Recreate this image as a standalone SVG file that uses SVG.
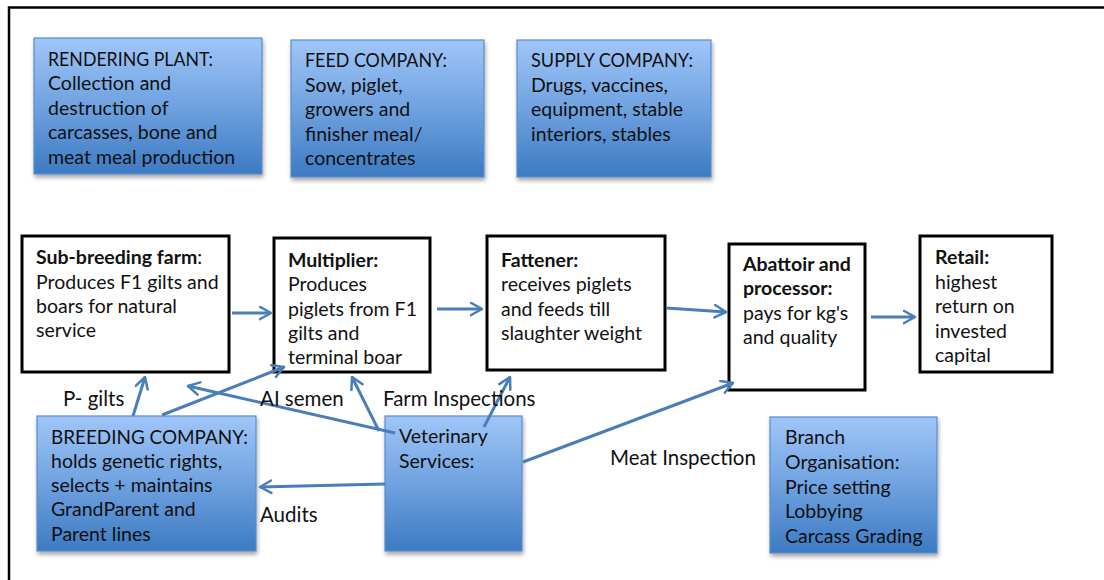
<svg xmlns="http://www.w3.org/2000/svg" width="1104" height="580" viewBox="0 0 1104 580">
<defs>
<linearGradient id="blueGrad" x1="0" y1="0" x2="0" y2="1">
<stop offset="0" stop-color="#a0c6f8"/>
<stop offset="0.5" stop-color="#6fa2e0"/>
<stop offset="1" stop-color="#3d7ac2"/>
</linearGradient>
<filter id="shadow" x="-10%" y="-10%" width="125%" height="130%">
<feDropShadow dx="1" dy="3" stdDeviation="2" flood-color="#000" flood-opacity="0.35"/>
</filter>
<marker id="arrow" viewBox="0 0 12 12" refX="10" refY="6" markerWidth="5" markerHeight="5" orient="auto" markerUnits="strokeWidth">
<path d="M1,1 L10,6 L1,11" fill="none" stroke="#4a7ebb" stroke-width="2" stroke-linecap="round" stroke-linejoin="round"/>
</marker>
</defs>
<style>
text{font-family:Lato,"Open Sans","Liberation Sans",sans-serif;font-size:19.5px;fill:#111;}
.b{font-weight:bold;}
.lbl{font-size:20.5px;}
.blue{fill:url(#blueGrad);stroke:#5a8ccc;stroke-width:1.2;filter:url(#shadow);}
.white{fill:#fff;stroke:#000;stroke-width:3;}
.conn{fill:none;stroke:#4a7ebb;stroke-width:3;marker-end:url(#arrow);}
</style>
<rect x="0" y="0" width="1104" height="580" fill="#fff"/>
<path d="M1104,7.5 H9 V580" fill="none" stroke="#000" stroke-width="2.5"/>

<g id="rendering-plant">
<rect class="blue" x="34" y="38" width="228" height="136"/>
<text x="48" y="66" textLength="165" lengthAdjust="spacingAndGlyphs">RENDERING PLANT:</text>
<text x="48" y="90">Collection and</text>
<text x="48" y="115">destruction of</text>
<text x="48" y="139">carcasses, bone and</text>
<text x="48" y="164">meat meal production</text>
</g>
<g id="feed-company">
<rect class="blue" x="291" y="40" width="193" height="137"/>
<text x="305" y="67" textLength="142" lengthAdjust="spacingAndGlyphs">FEED COMPANY:</text>
<text x="305" y="92">Sow, piglet,</text>
<text x="305" y="116">growers and</text>
<text x="305" y="141">finisher meal/</text>
<text x="305" y="165">concentrates</text>
</g>
<g id="supply-company">
<rect class="blue" x="517" y="40" width="194" height="137"/>
<text x="531" y="67" textLength="162" lengthAdjust="spacingAndGlyphs">SUPPLY COMPANY:</text>
<text x="531" y="92">Drugs, vaccines,</text>
<text x="531" y="116">equipment, stable</text>
<text x="531" y="141">interiors, stables</text>
</g>

<g id="sub-breeding-farm">
<rect class="white" x="22" y="236" width="207" height="136"/>
<text x="36" y="264"><tspan class="b">Sub-breeding farm</tspan>:</text>
<text x="36" y="289">Produces F1 gilts and</text>
<text x="36" y="313">boars for natural</text>
<text x="36" y="337">service</text>
</g>
<g id="multiplier">
<rect class="white" x="274" y="238" width="156" height="134"/>
<text class="b" x="288" y="267">Multiplier:</text>
<text x="288" y="291">Produces</text>
<text x="288" y="316">piglets from F1</text>
<text x="288" y="340">gilts and</text>
<text x="288" y="364">terminal boar</text>
</g>
<g id="fattener">
<rect class="white" x="487" y="236" width="178" height="134"/>
<text class="b" x="501" y="267">Fattener:</text>
<text x="501" y="291">receives piglets</text>
<text x="501" y="316">and feeds till</text>
<text x="501" y="340">slaughter weight</text>
</g>
<g id="abattoir">
<rect class="white" x="729" y="244" width="136" height="146"/>
<text class="b" x="743" y="271">Abattoir and</text>
<text class="b" x="743" y="295">processor:</text>
<text x="743" y="320">pays for kg's</text>
<text x="743" y="344">and quality</text>
</g>
<g id="retail">
<rect class="white" x="920" y="236" width="132" height="136"/>
<text class="b" x="935" y="264">Retail:</text>
<text x="935" y="289">highest</text>
<text x="935" y="313">return on</text>
<text x="935" y="338">invested</text>
<text x="935" y="362">capital</text>
</g>

<g id="breeding-company">
<rect class="blue" x="37" y="416" width="219" height="135"/>
<text x="51" y="444" textLength="197" lengthAdjust="spacingAndGlyphs">BREEDING COMPANY:</text>
<text x="51" y="468">holds genetic rights,</text>
<text x="51" y="492">selects + maintains</text>
<text x="51" y="516">GrandParent and</text>
<text x="51" y="541">Parent lines</text>
</g>
<g id="veterinary-services">
<rect class="blue" x="385" y="416" width="137" height="135"/>
<text x="399" y="443">Veterinary</text>
<text x="399" y="468">Services:</text>
</g>
<g id="branch-organisation">
<rect class="blue" x="770" y="417" width="167" height="136"/>
<text x="785" y="444">Branch</text>
<text x="785" y="469">Organisation:</text>
<text x="785" y="494">Price setting</text>
<text x="785" y="518">Lobbying</text>
<text x="785" y="543">Carcass Grading</text>
</g>

<g id="connectors">
<line class="conn" x1="232" y1="313" x2="271" y2="313"/>
<line class="conn" x1="437" y1="309" x2="482" y2="309"/>
<line class="conn" x1="666" y1="308" x2="726" y2="312"/>
<line class="conn" x1="871" y1="317" x2="915" y2="317"/>
<line class="conn" x1="133" y1="416" x2="145" y2="377"/>
<line class="conn" x1="162" y1="415" x2="284" y2="367"/>
<line class="conn" x1="395" y1="433" x2="188" y2="386"/>
<line class="conn" x1="379" y1="431" x2="352" y2="377"/>
<line class="conn" x1="484" y1="427" x2="510" y2="377"/>
<line class="conn" x1="523" y1="462" x2="733" y2="383"/>
<line class="conn" x1="385" y1="484" x2="260" y2="487"/>
</g>

<g id="labels">
<text class="lbl" x="63" y="406">P- gilts</text>
<text class="lbl" x="260" y="406">AI semen</text>
<text class="lbl" x="383" y="406">Farm Inspections</text>
<text class="lbl" x="610" y="465">Meat Inspection</text>
<text class="lbl" x="260" y="522">Audits</text>
</g>
</svg>
